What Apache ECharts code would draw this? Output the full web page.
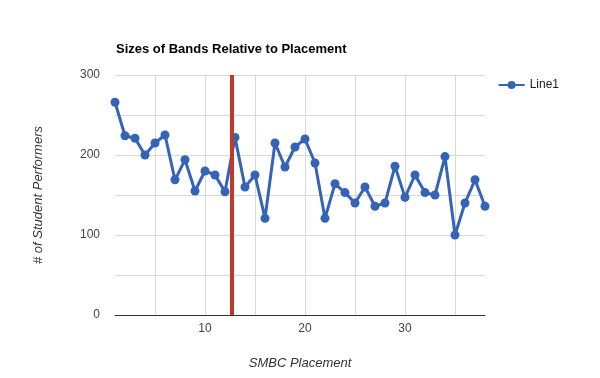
<!DOCTYPE html>
<html>
<head>
<meta charset="utf-8">
<script src="https://cdn.jsdelivr.net/npm/echarts@6/dist/echarts.min.js"></script>
<style>
  html, body { margin: 0; padding: 0; background: #fff; }
  #chart { width: 600px; height: 378px; }
</style>
</head>
<body>
<div id="chart"></div>
<script>
// placement 1..38 and band sizes
var placements = [];
for (var i = 1; i <= 38; i++) placements.push(i);
var performers = [266, 224, 221, 200, 215, 225, 169, 194, 155, 180,
  175, 154, 222, 160, 175, 121, 215, 185, 210, 220,
  190, 121, 164, 153, 140, 160, 136, 140, 186, 147,
  175, 153, 150, 198, 100, 140, 169, 136];
var xTicks = [5, 10, 15, 20, 25, 30, 35];
var xLabels = [10, 20, 30];
var cutoff = 12.7;

var points = placements.map(function (p, i) { return [p, performers[i]]; });

var chart = echarts.init(document.getElementById('chart'));
chart.setOption({
  backgroundColor: '#ffffff',
  textStyle: { fontFamily: 'Liberation Sans, Arial, sans-serif' },
  title: {
    text: 'Sizes of Bands Relative to Placement',
    left: 111, top: 38,
    textStyle: { fontSize: 13, fontWeight: 'bold', color: '#000' }
  },
  legend: {
    right: 36, top: 74,
    itemWidth: 26, itemHeight: 10,
    textStyle: { fontSize: 12, color: '#222' },
    data: ['Line1']
  },
  grid: { left: 115, right: 115, top: 75, bottom: 63 },
  xAxis: {
    type: 'value',
    min: 1, max: 38,
    name: 'SMBC Placement',
    nameLocation: 'middle',
    nameGap: 42,
    nameTextStyle: { fontStyle: 'italic', color: '#333', fontSize: 13 },
    axisLine: { lineStyle: { color: '#333' } },
    axisTick: { show: false, customValues: xTicks },
    axisLabel: { customValues: xLabels, color: '#444', fontSize: 12, margin: 8 },
    splitLine: { show: true, lineStyle: { color: '#d8d8d8' } }
  },
  yAxis: {
    type: 'value',
    min: 0, max: 300, interval: 50,
    name: '# of Student Performers',
    nameLocation: 'middle',
    nameGap: 70,
    nameTextStyle: { fontStyle: 'italic', color: '#333', fontSize: 13 },
    axisLine: { show: false },
    axisTick: { show: false },
    axisLabel: {
      color: '#444', fontSize: 12, margin: 15,
      formatter: function (v) { return v % 100 === 0 ? v : ''; }
    },
    splitLine: { lineStyle: { color: '#d8d8d8' } }
  },
  series: [{
    name: 'Line1',
    type: 'line',
    data: points,
    symbol: 'circle',
    symbolSize: 9,
    itemStyle: { color: '#3563b8' },
    lineStyle: { color: '#3563b8', width: 3 },
    markLine: {
      silent: true,
      symbol: 'none',
      label: { show: false },
      lineStyle: { color: '#c0392b', width: 4, type: 'solid' },
      data: [{ xAxis: cutoff }]
    }
  }]
});
</script>
</body>
</html>
